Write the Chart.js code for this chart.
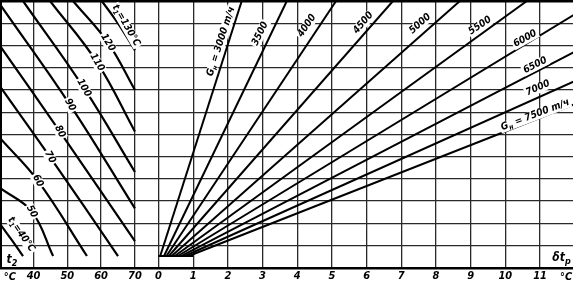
<!DOCTYPE html>
<html>
<head>
<meta charset="utf-8">
<script src="https://cdn.jsdelivr.net/npm/chart.js@4.4.1/dist/chart.umd.min.js"></script>
<style>
  html, body { margin: 0; padding: 0; background: #fff; }
  #wrap { width: 573px; height: 285px; }
</style>
</head>
<body>
<div id="wrap"><canvas id="nomo" width="573" height="285"></canvas></div>
<script>
// ticks of the two bottom scales
const t2Ticks = [40, 50, 60, 70];
const dtTicks = [0, 1, 2, 3, 4, 5, 6, 7, 8, 9, 10, 11];

// left part: curves t1 = const, points are [t2, y]
const t1Values = [40, 50, 60, 70, 80, 90, 100, 110, 120, 130];
const curve40  = [[30.4, 1.91], [33.6, 1.24], [36.9, 0.53]];
const curve50  = [[30.4, 3.56], [39.5, 2.53], [45.8, 0.53]];
const curve60  = [[30.4, 5.78], [41.3, 3.91], [55.8, 0.53]];
const curve70  = [[30.4, 8.09], [44.9, 4.98], [65.0, 0.53]];
const curve80  = [[30.4, 9.91], [47.8, 6.13], [70.0, 1.20]];
const curve90  = [[30.4, 11.78], [50.8, 7.33], [70.0, 2.67]];
const curve100 = [[36.9, 12.0], [54.9, 8.09], [70.0, 4.31]];
const curve110 = [[44.9, 12.0], [58.8, 9.24], [70.0, 6.13]];
const curve120 = [[51.7, 12.0], [62.0, 10.13], [70.0, 8.00]];
const curve130 = [[60.2, 12.0], [65.2, 10.95], [70.0, 9.78]];
const t1Curves = [curve40, curve50, curve60, curve70, curve80, curve90, curve100, curve110, curve120, curve130];

// right part: straight lines G_н = const, from the base level to the frame
const gValues  = [3000, 3500, 4000, 4500, 5000, 5500, 6000, 6500, 7000, 7500];
const gStartDt = [0.05, 0.16, 0.23, 0.30, 0.38, 0.47, 0.56, 0.65, 0.76, 0.87];
const gEndDt   = [2.40, 3.70, 5.12, 6.76, 8.69, 10.62, 12.0, 12.0, 12.0, 12.0];
const gEndY    = [12.0, 12.0, 12.0, 12.0, 12.0, 12.0, 11.40, 9.72, 8.40, 7.36];
const baseY    = 0.53;
const baseDt   = [0, 1];

// scale limits (both horizontal scales share the plot width)
const DT_MIN = -4.54, DT_MAX = 11.95;
const T2_MIN = 30.38, T2_MAX = 199.6;

const FONT = "'Liberation Sans Narrow', 'DejaVu Sans Condensed', 'Liberation Sans', sans-serif";

// labels on the curves and lines (anchor in data units, rotation in degrees)
const curveLabels = [
  { text: 't_1=40°C', t2: 36.4, y: 1.50, rot: 55 },
  { text: '50', t2: 39.5, y: 2.53, rot: 62 },
  { text: '60', t2: 41.3, y: 3.91, rot: 62 },
  { text: '70', t2: 44.9, y: 4.98, rot: 62 },
  { text: '80', t2: 47.8, y: 6.13, rot: 62 },
  { text: '90', t2: 50.8, y: 7.33, rot: 62 },
  { text: '100', t2: 54.9, y: 8.09, rot: 60 },
  { text: '110', t2: 58.8, y: 9.24, rot: 60 },
  { text: '120', t2: 62.0, y: 10.13, rot: 58 },
  { text: 't_1=130°C', t2: 67.4, y: 10.9, rot: 60 }
];
const lineLabels = [
  { text: 'G_н = 3000 m/ч', dt: 1.80, y: 10.18, rot: -72 },
  { text: '3500', dt: 2.93, y: 10.53, rot: -64 },
  { text: '4000', dt: 4.28, y: 10.89, rot: -56 },
  { text: '4500', dt: 5.90, y: 11.02, rot: -49 },
  { text: '5000', dt: 7.54, y: 10.98, rot: -42 },
  { text: '5500', dt: 9.27, y: 10.89, rot: -34 },
  { text: '6000', dt: 10.57, y: 10.31, rot: -29 },
  { text: '6500', dt: 10.86, y: 9.11, rot: -27 },
  { text: '7000', dt: 10.94, y: 8.09, rot: -24 },
  { text: 'G_н = 7500 m/ч', dt: 10.86, y: 6.88, rot: -21 }
];

function dtFromT2(t) {
  return DT_MIN + (t - T2_MIN) / (T2_MAX - T2_MIN) * (DT_MAX - DT_MIN);
}

const tickValues = t2Ticks.map(dtFromT2).concat(dtTicks);
const tickLabels = t2Ticks.map(String).concat(dtTicks.map(String));

// text with one-letter subscripts written as _x
function drawRich(ctx, text, x, y, rot, size, bg) {
  const parts = [];
  for (let i = 0; i < text.length; i++) {
    if (text[i] === '_') { parts.push({ s: text[i + 1], sub: true }); i++; }
    else if (parts.length && !parts[parts.length - 1].sub) parts[parts.length - 1].s += text[i];
    else parts.push({ s: text[i], sub: false });
  }
  const big = `italic bold ${size}px ${FONT}`;
  const small = `italic bold ${Math.round(size * 0.72)}px ${FONT}`;
  let w = 0;
  parts.forEach(p => { ctx.font = p.sub ? small : big; p.w = ctx.measureText(p.s).width; w += p.w; });
  ctx.save();
  ctx.translate(x, y);
  ctx.rotate(rot * Math.PI / 180);
  if (bg) {
    ctx.fillStyle = '#fff';
    ctx.fillRect(-w / 2 - 1.5, -size * 0.5, w + 3, size * 1.05);
  }
  ctx.fillStyle = '#000';
  ctx.textBaseline = 'middle';
  ctx.textAlign = 'left';
  let cx = -w / 2;
  parts.forEach(p => {
    ctx.font = p.sub ? small : big;
    ctx.fillText(p.s, cx, p.sub ? size * 0.3 : 0);
    cx += p.w;
  });
  ctx.restore();
}

const labelPlugin = {
  id: 'nomoLabels',
  afterDatasetsDraw(chart) {
    const ctx = chart.ctx;
    const xs = chart.scales.x, xt = chart.scales.xt, ys = chart.scales.y;
    curveLabels.forEach(l => drawRich(ctx, l.text, xt.getPixelForValue(l.t2), ys.getPixelForValue(l.y), l.rot, 10, true));
    lineLabels.forEach(l => drawRich(ctx, l.text, xs.getPixelForValue(l.dt), ys.getPixelForValue(l.y), l.rot, 10, true));
    drawRich(ctx, 't_2', xt.getPixelForValue(33.6), ys.getPixelForValue(0.36), 0, 12, false);
    drawRich(ctx, 'δt_р', xs.getPixelForValue(11.62), ys.getPixelForValue(0.45), 0, 12, false);
    const yb = chart.chartArea.bottom + 9;
    drawRich(ctx, '°C', xt.getPixelForValue(33.0), yb, 0, 11, false);
    drawRich(ctx, '°C', xs.getPixelForValue(11.75), yb, 0, 11, false);
  }
};

const datasets = [];
t1Curves.forEach((c, i) => {
  datasets.push({
    label: 't1 = ' + t1Values[i],
    xAxisID: 'xt',
    data: c.map(p => ({ x: p[0], y: p[1] })),
    borderWidth: 2.2,
    tension: 0.4
  });
});
gValues.forEach((g, i) => {
  datasets.push({
    label: 'G = ' + g,
    xAxisID: 'x',
    data: [{ x: gStartDt[i], y: baseY }, { x: gEndDt[i], y: gEndY[i] }]
  });
});
datasets.push({
  label: 'base',
  xAxisID: 'x',
  data: baseDt.map(d => ({ x: d, y: baseY }))
});

const gridStyle = { color: '#2a2a2a', lineWidth: 1.3, drawTicks: false };

new Chart(document.getElementById('nomo'), {
  type: 'scatter',
  data: { datasets: datasets.map(d => Object.assign({
    showLine: true, borderColor: '#000', borderWidth: 2, pointRadius: 0, fill: false
  }, d)) },
  options: {
    responsive: false,
    animation: false,
    devicePixelRatio: 1,
    layout: { padding: { left: 1, top: 1, right: 0, bottom: 0 } },
    plugins: { legend: { display: false }, tooltip: { enabled: false } },
    scales: {
      x: {
        type: 'linear', position: 'bottom', min: DT_MIN, max: DT_MAX,
        afterBuildTicks: s => { s.ticks = tickValues.map(v => ({ value: v })); },
        grid: gridStyle,
        border: { display: true, color: '#000', width: 2.5 },
        ticks: {
          autoSkip: false, maxRotation: 0, padding: 2, color: '#000',
          font: { family: FONT, size: 11, style: 'italic', weight: 'bold' },
          callback: (v, i) => tickLabels[i]
        }
      },
      xt: { type: 'linear', display: false, min: T2_MIN, max: T2_MAX },
      y: {
        type: 'linear', min: 0, max: 12,
        ticks: { display: false, stepSize: 1 },
        grid: Object.assign({}, gridStyle, {
          lineWidth: c => (c.tick && c.tick.value === 12 ? 2.5 : 1.3),
          color: c => (c.tick && c.tick.value === 12 ? '#000' : '#2a2a2a')
        }),
        border: { display: true, color: '#000', width: 2 }
      }
    }
  },
  plugins: [labelPlugin]
});
</script>
</body>
</html>
